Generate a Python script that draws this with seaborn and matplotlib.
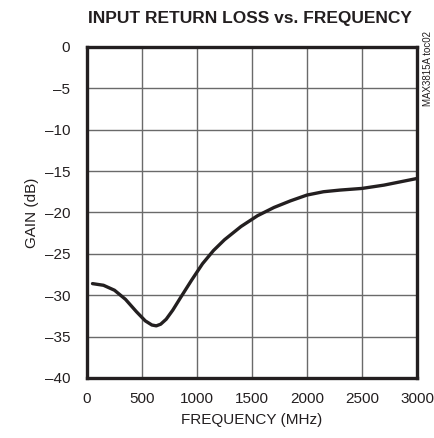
import numpy as np
import matplotlib.pyplot as plt
import seaborn as sns

# curve
freq_mhz = [50, 150, 250, 350, 450, 530, 590, 630, 670, 720, 780, 850, 950, 1050, 1150, 1250,
            1400, 1550, 1700, 1850, 2000, 2150, 2300, 2500, 2700, 2850, 3000]
gain_db = [-28.6, -28.8, -29.4, -30.5, -32.0, -33.1, -33.6, -33.7, -33.5, -32.9, -31.8, -30.3,
           -28.2, -26.2, -24.6, -23.3, -21.7, -20.4, -19.4, -18.6, -17.9, -17.5, -17.3,
           -17.1, -16.7, -16.3, -15.9]

x_ticks = [0, 500, 1000, 1500, 2000, 2500, 3000]
y_ticks = [0, -5, -10, -15, -20, -25, -30, -35, -40]

sns.set_style('white')
plt.rcParams['font.family'] = ['Liberation Sans', 'DejaVu Sans']

fig = plt.figure(figsize=(4.35, 4.38), dpi=100)
ax = fig.add_axes([0.2, 0.137, 0.7586, 0.756])

sns.lineplot(x=freq_mhz, y=gain_db, ax=ax, color='#231f20', linewidth=2.4)

ax.set_xlim(0, 3000)
ax.set_ylim(-40, 0)
ax.set_xticks(x_ticks)
ax.set_yticks(y_ticks)
ax.set_yticklabels([str(v).replace('-', '\u2013') for v in y_ticks])
ax.grid(True, color='#6a6a6a', linewidth=1.0)
ax.tick_params(axis='x', length=0, labelsize=11, pad=10, colors='#231f20')
ax.tick_params(axis='y', length=0, labelsize=11, pad=12, colors='#231f20')
for s in ax.spines.values():
    s.set_linewidth(2.4)
    s.set_color('#231f20')

ax.set_xlabel('FREQUENCY (MHz)', fontsize=11, color='#231f20', labelpad=5)
ax.set_ylabel('GAIN (dB)', fontsize=11, color='#231f20', labelpad=4)
fig.text(0.575, 0.975, 'INPUT RETURN LOSS vs. FREQUENCY', ha='center', va='top',
         fontsize=12.5, fontweight='bold', color='#231f20')
fig.text(0.985, 0.93, 'MAX3815A toc02', rotation=90, ha='center', va='top',
         fontsize=7, color='#231f20')

fig.savefig('out.png', dpi=100)
